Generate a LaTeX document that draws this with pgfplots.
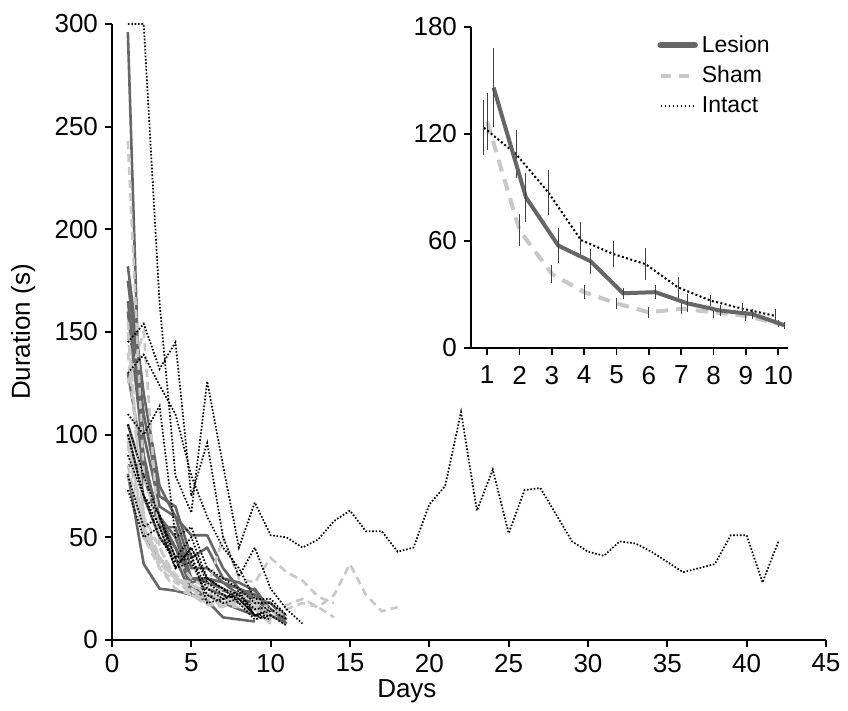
\documentclass[border=0pt]{standalone}
\usepackage{fontspec}
\setmainfont{Liberation Sans}
\usepackage{pgfplots}
\usepackage{pgfplotstable}
\pgfplotsset{compat=1.18}
\definecolor{lesion}{HTML}{666666}
\definecolor{sham}{HTML}{C8C8C8}
\definecolor{ebar}{HTML}{404040}

\pgfplotstableread{
x y e
1.2 146 22
2.2 84.4 14
3.2 57.4 10
4.2 48.6 7
5.2 30.7 3
6.2 31.3 4
7.2 25 5
8.2 21 3
9.2 19 3
10.2 12.7 2
}\lesionmean
\pgfplotstableread{
x y e
1 127 16
2 66 9
3 41.5 5
4 31.3 4
5 25 3
6 20 3
7 22 3
8 20 3
9 18 3
10 13.6 2
}\shammean
\pgfplotstableread{
x y e
0.9 123.5 15.5
1.9 108.6 13.5
2.9 87 12.6
3.9 60.5 10
4.9 52.7 7.5
5.9 47 9
6.9 34 6
7.9 26.6 3
8.9 22 3
9.9 18 4
}\intactmean

\begin{document}
\begin{tikzpicture}
\tikzset{
  lesl/.style={color=lesion, line width=1.3pt, line join=round},
  shaml/.style={color=sham, line width=1.3pt, dash pattern=on 4pt off 2.5pt},
  intl/.style={color=black, line width=0.85pt, dash pattern=on 0.8pt off 0.9pt},
}
\path[use as bounding box] (-56pt,-35.5pt) rectangle (368pt,320pt);
\begin{axis}[
  at={(0pt,0pt)}, anchor=south west,
  scale only axis, width=357pt, height=308pt,
  xmin=0, xmax=45, ymin=0, ymax=300,
  xtick={0,5,...,45}, ytick={0,50,...,300},
  axis lines*=left,
  axis line style={line width=0.9pt},
  tick align=outside, major tick length=3.5pt,
  tick style={black, line width=0.9pt},
  ticklabel style={font=\fontsize{13}{15}\selectfont},
  /pgf/number format/assume math mode=true,
  clip=false,
  xlabel={Days}, ylabel={Duration (s)},
  xlabel style={font=\fontsize{13}{15}\selectfont, at={(axis description cs:0.413,0)}, anchor=north, yshift=-19.5pt, inner sep=0pt},
  ylabel style={font=\fontsize{13}{15}\selectfont, at={(axis description cs:-0.1246,0.5)}, anchor=center, inner sep=0pt},
]
% Lesion
\addplot[lesl] coordinates {(1,296)(2,50)(3,40)(4,30)(5,25)(6,22)(7,18)(8,15)(9,12)(10,10)};
\addplot[lesl] coordinates {(1,182)(2,120)(3,75)(4,60)(5,51)(6,51)(7,35)(8,25)(9,22)(10,15)(11,10)};
\addplot[lesl] coordinates {(1,175)(2,110)(3,70)(4,65)(5,40)(6,45)(7,30)(8,28)(9,24)(10,15)(11,8)};
\addplot[lesl] coordinates {(1,165)(2,100)(3,65)(4,60)(5,35)(6,35)(7,28)(8,22)(9,25)(10,14)};
\addplot[lesl] coordinates {(1,160)(2,90)(3,55)(4,55)(5,30)(6,28)(7,25)(8,20)(9,18)(10,12)};
\addplot[lesl] coordinates {(1,130)(2,85)(3,60)(4,50)(5,28)(6,30)(7,24)(8,22)(9,20)(10,14)};
\addplot[lesl] coordinates {(1,105)(2,80)(3,55)(4,45)(5,25)(6,25)(7,22)(8,18)(9,15)(10,12)(11,8)};
\addplot[lesl] coordinates {(1,100)(2,70)(3,50)(4,40)(5,22)(6,22)(7,20)(8,20)(9,18)(10,10)};
\addplot[lesl] coordinates {(1,85)(2,85)(3,60)(4,45)(5,30)(6,30)(7,28)(8,25)(9,20)(10,18)(11,10)};
\addplot[lesl] coordinates {(1,81)(2,37)(3,25)(4,24)(5,22)(6,19)(7,11)(8,10)(9,9)};
% Sham
\addplot[shaml] coordinates {(1,243)(2,80)(3,55)(4,40)(5,30)(6,25)(7,50)(8,30)(9,28)(10,40)(11,33)(12,29)(13,21)(14,18)};
\addplot[shaml] coordinates {(1,125)(2,150)(3,45)(4,30)(5,28)(6,22)(7,25)(8,22)(9,20)(10,15)(11,12)};
\addplot[shaml] coordinates {(1,150)(2,60)(3,45)(4,30)(5,25)(6,20)(7,20)(8,18)(9,18)(10,12)(11,17)(12,20)(13,16)(14,11)};
\addplot[shaml] coordinates {(1,140)(2,60)(3,40)(4,30)(5,22)(6,18)(7,18)(8,20)(9,15)(10,10)};
\addplot[shaml] coordinates {(1,155)(2,55)(3,40)(4,32)(5,25)(6,20)(7,18)(8,18)(9,16)(10,10)};
\addplot[shaml] coordinates {(1,100)(2,55)(3,35)(4,28)(5,24)(6,18)(7,16)(8,22)(9,18)(10,12)};
\addplot[shaml] coordinates {(1,95)(2,50)(3,38)(4,30)(5,22)(6,18)(7,18)(8,17)(9,15)(10,8)};
\addplot[shaml] coordinates {(1,85)(2,50)(3,35)(4,25)(5,22)(6,17)(7,17)(8,16)(9,14)(10,8)};
\addplot[shaml] coordinates {(1,80)(2,55)(3,40)(4,30)(5,27)(6,22)(7,20)(8,20)(9,16)(10,12)(11,15)(12,18)(13,16)(14,22)(15,37)(16,22)(17,14)(18,16)};
\addplot[shaml] coordinates {(1,97)(2,55)(3,37)(4,30)(5,25)(6,20)(7,20)(8,17)(9,18)(10,9)};
% Intact
\addplot[intl] coordinates {(1,300)(2,300)(3,164)(4,80)(5,62)(6,126)(7,85)(8,45)(9,67)(10,51)(11,50)(12,45)(13,49)(14,58)(15,63)(16,53)(17,53)(18,43)(19,45)(20,66)(21,75)(22,111)(23,63)(24,83)(25,52)(26,73)(27,74)(28,61)(29,48)(30,43)(31,41)(32,48)(33,47)(34,43)(35,38)(36,33)(37,35)(38,37)(39,51)(40,51)(41,28)(42,48)};
\addplot[intl] coordinates {(1,145)(2,154)(3,132)(4,145)(5,70)(6,96)(7,50)(8,31)(9,45)(10,25)(11,15)(12,8)};
\addplot[intl] coordinates {(1,130)(2,139)(3,124)(4,110)(5,80)(6,60)(7,45)(8,35)(9,20)(10,20)(11,12)};
\addplot[intl] coordinates {(1,110)(2,100)(3,114)(4,50)(5,55)(6,35)(7,30)(8,25)(9,18)(10,18)(11,12)};
\addplot[intl] coordinates {(1,105)(2,80)(3,60)(4,40)(5,50)(6,30)(7,25)(8,22)(9,15)(10,16)};
\addplot[intl] coordinates {(1,100)(2,70)(3,55)(4,35)(5,45)(6,28)(7,22)(8,20)(9,12)(10,15)(11,10)};
\addplot[intl] coordinates {(1,90)(2,70)(3,50)(4,38)(5,40)(6,25)(7,20)(8,22)(9,12)(10,12)(11,7)};
\addplot[intl] coordinates {(1,80)(2,55)(3,60)(4,35)(5,38)(6,22)(7,18)(8,20)(9,12)(10,14)};
\addplot[intl] coordinates {(1,73)(2,50)(3,55)(4,35)(5,45)(6,30)(7,25)(8,18)(9,10)(10,12)};
\addplot[intl] coordinates {(1,100)(2,70)(3,61)(4,40)(5,42)(6,18)(7,20)(8,24)(9,12)(10,10)};
\end{axis}

\begin{axis}[
  at={(179.5pt,146pt)}, anchor=south west,
  scale only axis, width=158.5pt, height=160.5pt,
  xmin=0.5, xmax=10.3, ymin=0, ymax=180,
  xtick={1,...,10}, ytick={0,60,120,180},
  axis lines*=left,
  axis line style={line width=0.9pt},
  tick align=outside, major tick length=3.5pt,
  tick style={black, line width=0.9pt},
  ticklabel style={font=\fontsize{13}{15}\selectfont},
  xticklabel style={yshift=-2pt},
  /pgf/number format/assume math mode=true,
  clip=false,
  legend image code/.code={\draw[#1] (0pt,0pt) -- (17pt,0pt);},
  legend style={draw=none, fill=none, font=\fontsize{11.5}{13}\selectfont,
    at={(0.975,1.0)}, anchor=north east, row sep=1.5pt, cells={anchor=west}},
  error bars/error bar style={solid, line width=0.5pt, color=ebar},
  error bars/error mark=none,
]
\addlegendimage{color=lesion, line width=3.2pt, line cap=round}
\addlegendentry{Lesion}
\addlegendimage{color=sham, line width=2pt, dash pattern=on 5pt off 4pt}
\addlegendentry{Sham}
\addlegendimage{color=black, line width=0.8pt, dash pattern=on 0.8pt off 1.2pt}
\addlegendentry{Intact}
\addplot[forget plot, color=sham, line width=2pt, dash pattern=on 6pt off 4pt,
  error bars/.cd, y dir=both, y explicit] table[x=x,y=y,y error=e]{\shammean};
\addplot[forget plot, color=black, line width=1pt, dash pattern=on 1pt off 1.2pt,
  error bars/.cd, y dir=both, y explicit] table[x=x,y=y,y error=e]{\intactmean};
\addplot[forget plot, color=lesion, line width=2pt,
  error bars/.cd, y dir=both, y explicit] table[x=x,y=y,y error=e]{\lesionmean};
\end{axis}
\end{tikzpicture}
\end{document}
